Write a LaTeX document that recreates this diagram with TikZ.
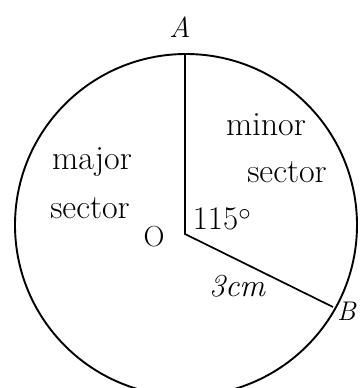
\documentclass[tikz,border=0pt]{standalone}
\usepackage{fontspec}
\usepackage{tikz}
\usetikzlibrary{positioning}

\begin{document}
\begin{tikzpicture}[
    x=1pt, y=-1pt,
    every node/.style={font=\fontsize{29}{32}\selectfont},
    rim/.style={draw=black, line width=1.9pt},
    spoke/.style={draw=black, line width=1.7pt},
    point/.style={font=\fontsize{29}{32}\selectfont\itshape},
    measure/.style={font=\fontsize{33}{36}\selectfont},
    hand/.style={font=\fontsize{34}{36}\selectfont, inner sep=0pt},
  ]
  \useasboundingbox (0,0) rectangle (359,388);
  \clip (0,0) rectangle (359,388);

  % circle and the two radii
  \coordinate (C) at (186,225);
  \coordinate (O) at (185,234);
  \coordinate (A) at (185,54);
  \coordinate (B) at (333,307);
  \draw[rim] (C) circle[radius=171];
  \draw[spoke] (A) -- (O) -- (B);

  \node[point] (labA) at (180,27) {A};
  \node[point, anchor=west, inner sep=0pt, font=\fontsize{27}{28}\selectfont\itshape] (labB) at (337,311) {B};
  \node (labO) at (154,237) {O};
  \node[measure] (ang) at (222,219) {115$^{\circ}$};
  \node[measure, font=\fontsize{32}{36}\selectfont\itshape] (len) at (237,286) {3cm};

  % handwritten sector names
  \node[hand] (major) at (92,162) {major};
  \node[hand] (majsec) at (90,208) {sector};
  \node[hand] (minor) at (266,125) {minor};
  \node[hand] (minsec) at (287,172) {sector};
\end{tikzpicture}
\end{document}
